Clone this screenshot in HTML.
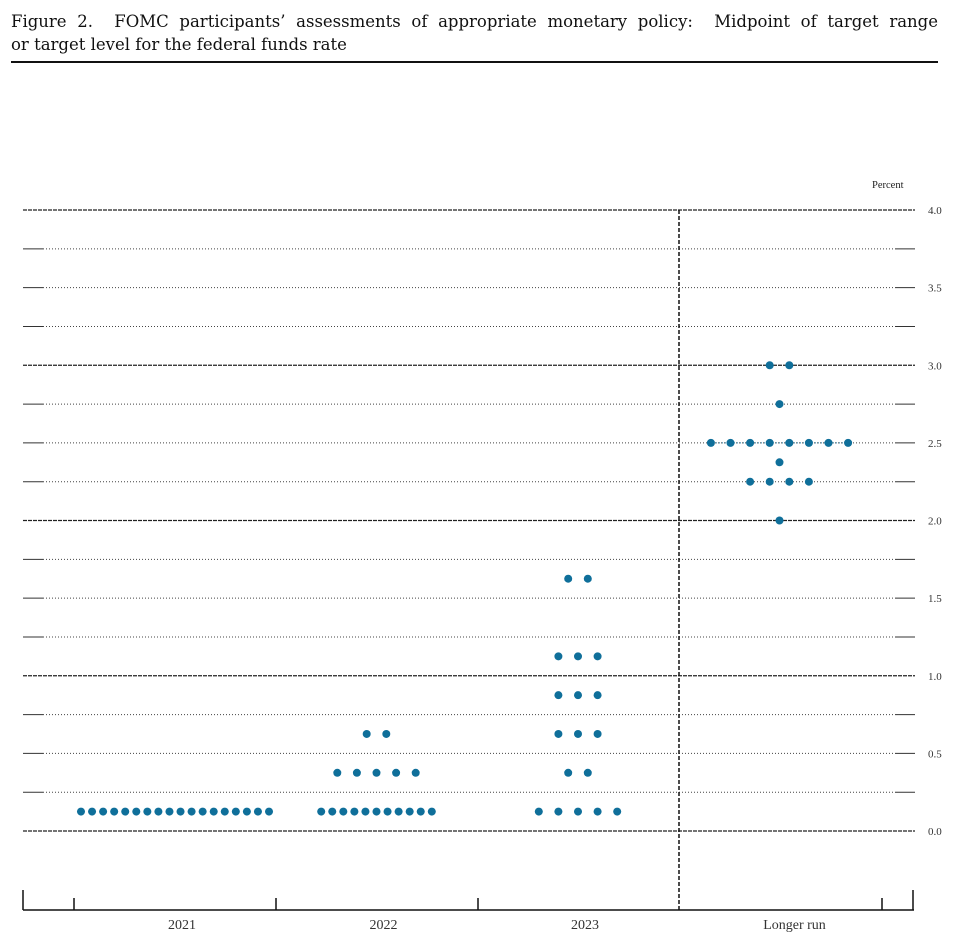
<!DOCTYPE html>
<html><head><meta charset="utf-8"><style>
body{margin:0;background:#fff;width:959px;height:940px;overflow:hidden;font-family:"Liberation Serif",serif}
#title{position:absolute;left:11px;top:10px;font-family:"DejaVu Serif","Liberation Serif",serif;font-size:16.5px;line-height:23px;color:#111;width:927px}
#title .l1{display:block;text-align:justify;text-align-last:justify;white-space:nowrap}
#rule{position:absolute;left:11px;top:61px;width:927px;height:2px;background:#111}
</style></head><body>
<div id="title"><span class="l1">Figure 2.&nbsp; FOMC participants’ assessments of appropriate monetary policy:&nbsp; Midpoint of target range</span>or target level for the federal funds rate</div>
<div id="rule"></div>
<svg id="chart" width="959" height="940" style="position:absolute;left:0;top:0"></svg>
<script>
const columns=["2021","2022","2023","Longer run"];
const levels=[[0.125],[0.125,0.375,0.625],[0.125,0.375,0.625,0.875,1.125,1.625],[2.0,2.25,2.375,2.5,2.75,3.0]];
const counts=[[18],[11,5,2],[5,2,3,3,3,2],[1,4,1,8,1,2]];
const yTicks=["0.0","0.5","1.0","1.5","2.0","2.5","3.0","3.5","4.0"];
const NS="http://www.w3.org/2000/svg";
const svg=document.getElementById('chart');
const y=v=>831-v*155.25;
const colCenter=i=>175+i*201.5;
function mk(t,a,p){const e=document.createElementNS(NS,t);for(const k in a)e.setAttribute(k,a[k]);(p||svg).appendChild(e);return e;}
for(let q=0;q<=16;q++){
  const v=q*0.25,yy=y(v);
  let g;
  if(q%4===0){g=mk('line',{x1:23,x2:915,y1:yy,y2:yy,stroke:'#222','stroke-width':1.2,'stroke-dasharray':'4 1'});}
  else{g=mk('line',{x1:43,x2:895,y1:yy,y2:yy,stroke:'#444','stroke-width':1,'stroke-dasharray':'1 2'});
    mk('line',{x1:23,x2:43,y1:yy,y2:yy,stroke:'#333','stroke-width':1});
    mk('line',{x1:895,x2:915,y1:yy,y2:yy,stroke:'#333','stroke-width':1});}
  
  
}
yTicks.forEach((t,i)=>{const e=mk('text',{x:928,y:y(i*0.5)+4,'font-size':11,fill:'#333'});e.textContent=t;
  
  });
const pc=mk('text',{x:872,y:188,'font-size':10.5,fill:'#222'});pc.textContent='Percent';


const dv=mk('line',{x1:679,x2:679,y1:210,y2:910,stroke:'#111','stroke-width':1.5,'stroke-dasharray':'4 2'});


const ax=mk('line',{x1:23,x2:914,y1:910,y2:910,stroke:'#111','stroke-width':1.5});


[[23,890],[913,890],[74,898],[276,898],[478,898],[882,898]].forEach(([x,t])=>{mk('line',{x1:x,x2:x,y1:t,y2:910,stroke:'#111','stroke-width':1.5});});
columns.forEach((c,i)=>{const e=mk('text',{x:colCenter(i)+(i==3?15:7),y:929,'font-size':14,fill:'#333','text-anchor':'middle'});e.textContent=c;
  
  });
columns.forEach((c,i)=>{levels[i].forEach((v,j)=>{const n=counts[i][j];const sp=n>8?11.06:19.6;const cx=colCenter(i)-(n-1)*sp/2;
  if(i===3&&n>=8){mk('line',{x1:cx-4,x2:cx+(n-1)*sp+4,y1:y(v),y2:y(v),stroke:'#0f6f9a','stroke-width':1,'stroke-dasharray':'1 2'});}
  for(let k=0;k<n;k++){const d=mk('circle',{cx:cx+k*sp,cy:y(v),r:4,fill:'#0f6f9a'});
    
    }
});});
</script>
</body></html>
